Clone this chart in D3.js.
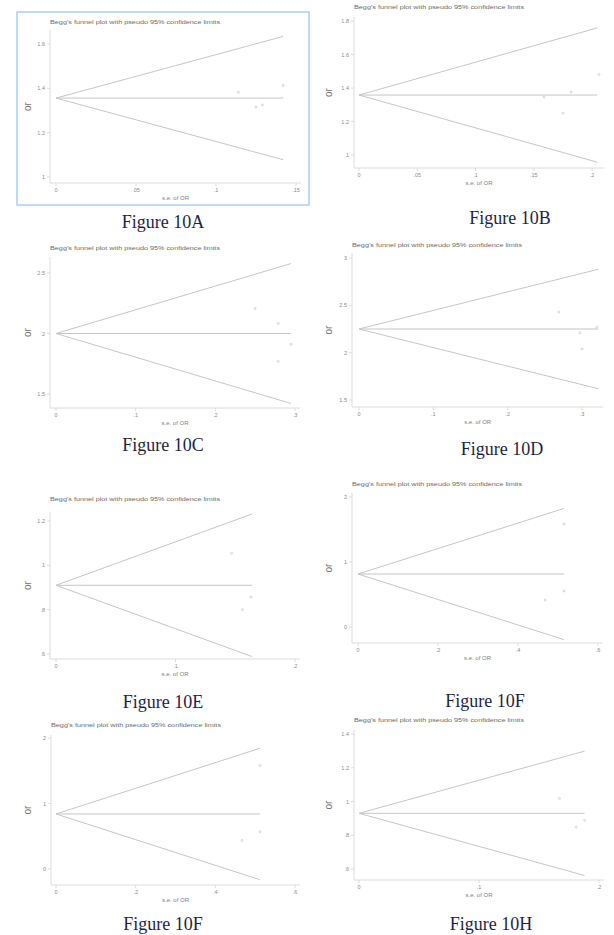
<!DOCTYPE html>
<html>
<head>
<meta charset="utf-8">
<script src="https://cdn.jsdelivr.net/npm/d3@7/dist/d3.min.js"></script>
<style>
  html, body { margin: 0; padding: 0; background: #fff; }
  svg { display: block; }
</style>
</head>
<body>
<svg id="fig" width="614" height="935"></svg>
<script>
// Begg's funnel plots: study log-odds-ratio estimates against their standard error,
// with the pooled estimate and pseudo 95% confidence limits.
const captions = ["Figure 10A", "Figure 10B", "Figure 10C", "Figure 10D",
                  "Figure 10E", "Figure 10F", "Figure 10F", "Figure 10H"];
const pooledOR = [1.356, 1.358, 2.0, 2.25, 0.91, 0.815, 0.84, 0.93];
const maxSE    = [0.142, 0.2045, 0.295, 0.322, 0.164, 0.515, 0.512, 0.188];
const studySE  = [[0.114, 0.125, 0.129, 0.142],
                  [0.159, 0.175, 0.182, 0.206],
                  [0.25, 0.279, 0.279, 0.295],
                  [0.269, 0.297, 0.30, 0.32],
                  [0.147, 0.156, 0.163],
                  [0.4675, 0.515, 0.515],
                  [0.467, 0.512, 0.512],
                  [0.167, 0.181, 0.188]];
const studyOR  = [[1.382, 1.316, 1.325, 1.413],
                  [1.346, 1.25, 1.376, 1.48],
                  [2.207, 2.083, 1.77, 1.91],
                  [2.43, 2.21, 2.04, 2.27],
                  [1.054, 0.80, 0.857],
                  [0.415, 1.585, 0.554],
                  [0.435, 1.58, 0.57],
                  [1.018, 0.847, 0.888]];
const yTicks = [[1, 1.2, 1.4, 1.6], [1, 1.2, 1.4, 1.6, 1.8], [1.5, 2, 2.5], [1.5, 2, 2.5, 3],
                [0.6, 0.8, 1, 1.2], [0, 1, 2], [0, 1, 2], [0.6, 0.8, 1, 1.2, 1.4]];
const xTicks = [[0, 0.05, 0.1, 0.15], [0, 0.05, 0.1, 0.15, 0.2], [0, 0.1, 0.2, 0.3], [0, 0.1, 0.2, 0.3],
                [0, 0.1, 0.2], [0, 0.2, 0.4, 0.6], [0, 0.2, 0.4, 0.6], [0, 0.1, 0.2]];
const titleText = "Begg's funnel plot with pseudo 95% confidence limits";
const xLabel = "s.e. of OR";
const yLabel = "or";
const z = 1.96;

// Page placement of each panel (pixel ranges for the scales, axis lines, captions)
const layout = [
  {ox: 56,  ex: 296, oy: 177, ey: 44,  ax: 50,  base: 183, top: 30,  title: 24,  ylabX: 28,  capX: 163, capY: 228},
  {ox: 359, ex: 592, oy: 155, ey: 21,  ax: 354, base: 168, top: 17,  title: 9,   ylabX: 329, capX: 510, capY: 224},
  {ox: 56,  ex: 295, oy: 394, ey: 273, ax: 50,  base: 408, top: 257, title: 250, ylabX: 28,  capX: 163, capY: 451},
  {ox: 359, ex: 582, oy: 400, ey: 258, ax: 352, base: 407, top: 253, title: 247, ylabX: 329, capX: 502, capY: 455},
  {ox: 56,  ex: 295, oy: 654, ey: 521, ax: 50,  base: 659, top: 512, title: 501, ylabX: 28,  capX: 163, capY: 708},
  {ox: 358, ex: 598, oy: 627, ey: 497, ax: 352, base: 643, top: 493, title: 486, ylabX: 329, capX: 485, capY: 707},
  {ox: 56,  ex: 295, oy: 869, ey: 738, ax: 51,  base: 885, top: 735, title: 727, ylabX: 28,  capX: 163, capY: 930},
  {ox: 359, ex: 599, oy: 869, ey: 734, ax: 354, base: 880, top: 730, title: 722, ylabX: 329, capX: 491, capY: 930}
];

const LINE = "#c6c6c6", AXIS = "#dcdcdc", TICKTXT = "#8a8a8a";
const sans = "'Liberation Sans', Arial, sans-serif";
const serif = "'Liberation Serif', 'Times New Roman', serif";
const fmt = v => (v === 0 ? "0" : String(+v.toFixed(3)).replace(/^0\./, ".").replace(/^-0\./, "-."));

const svg = d3.select("#fig");

// selection frame around the first panel
svg.append("rect").attr("x", 17).attr("y", 12).attr("width", 292).attr("height", 193)
  .attr("fill", "none").attr("stroke", "#a9c9ef").attr("stroke-width", 1.4);

captions.forEach((cap, i) => {
  const L = layout[i];
  const xt = xTicks[i], yt = yTicks[i];
  const x = d3.scaleLinear().domain([xt[0], xt[xt.length - 1]]).range([L.ox, L.ex]);
  const y = d3.scaleLinear().domain([yt[0], yt[yt.length - 1]]).range([L.oy, L.ey]);
  const g = svg.append("g");

  const right = Math.max(x(xt[xt.length - 1]), x(maxSE[i]), d3.max(studySE[i], x)) + 5;

  // axes
  g.append("line").attr("x1", L.ax).attr("x2", L.ax).attr("y1", L.top).attr("y2", L.base)
    .attr("stroke", AXIS).attr("stroke-width", 1);
  g.append("line").attr("x1", L.ax).attr("x2", right).attr("y1", L.base).attr("y2", L.base)
    .attr("stroke", AXIS).attr("stroke-width", 1);

  // y ticks
  g.selectAll(".yt").data(yt).join("line")
    .attr("x1", L.ax - 3).attr("x2", L.ax).attr("y1", d => y(d)).attr("y2", d => y(d))
    .attr("stroke", AXIS);
  g.selectAll(".yl").data(yt).join("text")
    .attr("x", L.ax - 5).attr("y", d => y(d) + 2)
    .attr("text-anchor", "end").attr("font-family", sans).attr("font-size", 5.5)
    .attr("fill", TICKTXT).text(fmt);

  // x ticks
  g.selectAll(".xt").data(xt).join("line")
    .attr("x1", d => x(d)).attr("x2", d => x(d)).attr("y1", L.base).attr("y2", L.base + 3)
    .attr("stroke", AXIS);
  g.selectAll(".xl").data(xt).join("text")
    .attr("x", d => x(d)).attr("y", L.base + 9)
    .attr("text-anchor", "middle").attr("font-family", sans).attr("font-size", 5.5)
    .attr("fill", TICKTXT).text(fmt);

  // axis titles
  g.append("text").attr("x", (L.ax + right) / 2).attr("y", L.base + 17)
    .attr("text-anchor", "middle").attr("font-family", sans).attr("font-size", 6)
    .attr("fill", "#808080").text(xLabel);
  const ym = (L.top + L.base) / 2;
  g.append("text").attr("transform", `translate(${L.ylabX + 3},${ym}) rotate(-90)`)
    .attr("text-anchor", "middle").attr("font-family", sans).attr("font-size", 10)
    .attr("fill", "#707070").text(yLabel);

  // panel title
  g.append("text").attr("x", L.ax).attr("y", L.title)
    .attr("font-family", sans).attr("font-size", 5.6).attr("fill", "#6a6a6a")
    .attr("textLength", 170).attr("lengthAdjust", "spacingAndGlyphs").text(titleText);

  // pooled estimate and pseudo 95% limits
  const se = [0, maxSE[i]];
  const lines = [
    se.map(s => [s, pooledOR[i]]),
    se.map(s => [s, pooledOR[i] + z * s]),
    se.map(s => [s, pooledOR[i] - z * s])
  ];
  const path = d3.line().x(d => x(d[0])).y(d => y(d[1]));
  g.selectAll(".fl").data(lines).join("path")
    .attr("d", path).attr("fill", "none").attr("stroke", LINE).attr("stroke-width", 1);

  // studies
  g.selectAll(".pt").data(studySE[i].map((s, k) => [s, studyOR[i][k]])).join("circle")
    .attr("cx", d => x(d[0])).attr("cy", d => y(d[1])).attr("r", 1)
    .attr("fill", "none").attr("stroke", "#bdbdbd").attr("stroke-width", 0.6);

  // caption
  svg.append("text").attr("x", L.capX).attr("y", L.capY)
    .attr("text-anchor", "middle").attr("font-family", serif).attr("font-size", 18)
    .attr("fill", "#1f1f45").text(cap);
});
</script>
</body>
</html>
